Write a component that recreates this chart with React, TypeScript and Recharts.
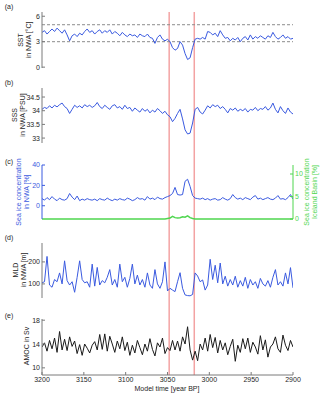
import { LineChart, Line, XAxis, YAxis, ReferenceLine } from "recharts";

// model years, every 3 years
const years = [
  3200, 3197, 3194, 3191, 3188, 3185, 3182, 3179, 3176, 3173,
  3170, 3167, 3164, 3161, 3158, 3155, 3152, 3149, 3146, 3143,
  3140, 3137, 3134, 3131, 3128, 3125, 3122, 3119, 3116, 3113,
  3110, 3107, 3104, 3101, 3098, 3095, 3092, 3089, 3086, 3083,
  3080, 3077, 3074, 3071, 3068, 3065, 3062, 3059, 3056, 3053,
  3050, 3047, 3044, 3041, 3038, 3035, 3032, 3029, 3026, 3023,
  3020, 3017, 3014, 3011, 3008, 3005, 3002, 2999, 2996, 2993,
  2990, 2987, 2984, 2981, 2978, 2975, 2972, 2969, 2966, 2963,
  2960, 2957, 2954, 2951, 2948, 2945, 2942, 2939, 2936, 2933,
  2930, 2927, 2924, 2921, 2918, 2915, 2912, 2909, 2906, 2903, 2900,
];

const sst = [
  4.1, 4.3, 3.9, 4.2, 4.5, 4.2, 4.6, 4.3, 4.0, 4.4,
  3.8, 3.1, 3.7, 3.9, 3.6, 4.0, 3.8, 4.2, 4.5, 4.1,
  4.3, 3.9, 4.2, 4.4, 4.0, 4.3, 4.1, 4.4, 3.9, 4.2,
  4.0, 3.7, 4.1, 3.8, 3.6, 3.9, 3.7, 3.8, 3.5, 3.9,
  3.7, 3.6, 3.9, 3.5, 3.4, 2.8, 3.5, 3.8, 3.3, 3.1,
  3.3, 3.0, 2.3, 2.0, 2.2, 3.0, 2.6, 1.6, 0.9, 1.1,
  2.3, 3.3, 3.4, 3.3, 3.5, 3.3, 4.2, 4.1, 3.8, 4.0,
  3.6, 4.3, 3.8, 3.4, 3.5, 3.1, 3.4, 3.2, 3.5, 3.0,
  3.4, 3.6, 3.2, 3.8, 3.3, 3.6, 3.4, 3.7, 3.5, 3.3,
  3.7, 3.5, 4.1, 3.6, 3.3, 3.5, 3.8, 3.4, 3.6, 3.3, 3.4,
];

const sss = [
  34.05, 34.12, 34.08, 34.18, 34.1, 34.2, 34.14, 34.22, 34.28, 34.15,
  34.08, 33.9, 34.05, 34.2, 34.12, 34.18, 34.1, 34.22, 34.15, 34.2,
  34.12, 34.18, 34.3, 34.15, 34.08, 34.2, 34.12, 34.05, 34.18, 34.22,
  34.1, 34.15, 34.05, 34.2, 34.08, 34.12, 33.98, 34.1, 34.02, 33.95,
  34.08, 33.98, 34.05, 33.92, 34.02, 33.95, 34.08, 34.0, 33.9, 33.98,
  33.85, 33.78, 33.6, 33.72, 33.9, 34.05, 33.7, 33.3, 33.15, 33.18,
  33.55, 34.05, 34.12, 33.95, 33.88, 34.02, 34.18, 34.1, 34.22, 34.15,
  34.2, 34.08, 34.15, 34.05, 33.92, 34.08, 34.02, 34.1, 33.98, 34.05,
  34.0, 34.08, 33.95, 34.05, 34.02, 34.12, 34.0, 34.08, 34.05, 34.15,
  34.02, 34.1, 34.28, 34.05, 33.92, 34.15, 34.0, 33.9, 34.1, 33.95, 33.88,
];

const iceNwa = [
  7, 5.5, 8, 6, 9, 6.5, 5, 7.5, 6, 5.5,
  7, 12, 8.5, 6, 9.5, 5, 6.5, 5.5, 7, 6,
  5.5, 6.5, 5, 7, 6, 5.5, 7.5, 6, 5, 6.5,
  5.5, 7, 6, 5.5, 7.5, 6.5, 5, 6, 8, 6.5,
  7, 5.5, 9, 6.5, 7.5, 6, 8.5, 7, 6.5, 8,
  9, 10, 12, 18, 11, 10.5, 11, 24, 26, 19,
  10, 7.5, 7, 6.5, 7.5, 6, 7, 5.5, 6.5, 7,
  5.5, 6, 8, 6.5, 5.5, 7, 11, 8, 6.5, 7.5,
  6, 8, 7, 6, 8.5, 10, 6.5, 7.5, 6, 7,
  8, 6.5, 6, 7.5, 10, 6.5, 7, 6, 8, 11, 6.5,
];

const iceIceland = [
  0, 0, 0, 0, 0, 0, 0, 0, 0, 0,
  0, 0, 0, 0, 0, 0, 0, 0, 0, 0,
  0, 0, 0, 0, 0, 0, 0, 0, 0, 0,
  0, 0, 0, 0, 0, 0, 0, 0, 0, 0,
  0, 0, 0, 0, 0, 0, 0, 0, 0, 0,
  0.1, 0.2, 0.6, 0.3, 0.2, 0.3, 0.5, 0.4, 0.7, 0.3,
  0.1, 0, 0, 0, 0, 0, 0, 0, 0, 0,
  0, 0, 0, 0, 0, 0, 0, 0, 0, 0,
  0, 0, 0, 0, 0, 0, 0, 0, 0, 0,
  0, 0, 0, 0, 0, 0, 0, 0, 0, 0, 0,
];

const mld = [
  105, 110, 225, 95, 85, 120, 110, 150, 100, 205,
  115, 95, 110, 62, 130, 205, 120, 105, 110, 85,
  190, 90, 175, 95, 115, 105, 130, 165, 95, 120,
  85, 190, 110, 130, 85, 125, 190, 100, 140, 95,
  120, 85, 150, 95, 80, 165, 100, 80, 110, 200,
  68, 80, 72, 65, 110, 151, 80, 50, 47, 46,
  52, 150, 136, 110, 118, 72, 95, 212, 120, 185,
  105, 195, 100, 135, 90, 120, 95, 135, 85, 115,
  90, 130, 80, 120, 95, 110, 80, 125, 100, 90,
  115, 85, 130, 165, 95, 110, 90, 150, 100, 174, 82,
];

const amoc = [
  13.5, 14.2, 12.8, 14.6, 13.2, 15.0, 12.6, 16.1, 13.0, 14.8,
  12.9, 15.2, 13.6, 14.5, 12.4, 13.9, 12.1, 14.0, 13.3, 12.5,
  13.8, 14.4, 13.0, 15.6, 13.1, 15.7, 12.8, 15.3, 14.0, 12.6,
  14.5, 13.2, 15.2, 12.9, 14.3, 12.1, 13.8, 12.5, 14.6, 13.4,
  12.2, 14.0, 12.8, 14.9, 13.1, 12.0, 14.2, 13.5, 15.0, 12.4,
  13.4, 12.9, 14.6, 13.0, 14.5, 12.8, 15.2, 14.0, 16.9, 13.0,
  11.3, 12.8, 11.2, 14.0, 13.0, 15.0, 12.8, 15.6, 13.4, 15.1,
  12.5, 14.6, 13.0, 14.2, 12.2, 13.6, 14.8, 11.1, 13.8, 12.6,
  14.9, 13.2, 15.0, 12.6, 14.3, 13.5, 12.3, 15.4, 13.0, 14.7,
  11.8, 13.5, 14.0, 15.2, 13.2, 12.6, 15.5, 13.8, 12.9, 14.6, 13.5,
];

const xTicks = [3200, 3150, 3100, 3050, 3000, 2950, 2900];
const eventStart = 3048;
const eventEnd = 3018;
const sstRefs = [3, 5];

const rows = years.map((year, i) => ({
  year,
  sst: sst[i],
  sss: sss[i],
  iceNwa: iceNwa[i],
  iceIceland: iceIceland[i],
  mld: mld[i],
  amoc: amoc[i],
}));

const FONT = "'Liberation Sans', Arial, sans-serif";
const FS = 7;
const AXIS = "#7a7a7a";
const TXT = "#262626";
const BLUE = "#3a5ae0";
const GREEN = "#4fd64f";
const RED = "#f3a3a3";
const PAD = 6;

// box axes (MATLAB style, inward ticks)
function frame(
  domain: [number, number],
  ticks: number[],
  opts: { showX?: boolean; leftColor?: string; right?: boolean } = {}
) {
  const lc = opts.leftColor ?? AXIS;
  const tc = opts.leftColor ?? TXT;
  const items = [
    <XAxis
      key="xb"
      dataKey="year"
      type="number"
      domain={[2900, 3200]}
      reversed
      ticks={xTicks}
      interval={0}
      allowDataOverflow
      height={opts.showX ? 16 : 0}
      stroke={AXIS}
      tickSize={-3}
      tickMargin={5}
      tick={opts.showX ? { fill: TXT, fontSize: FS, fontFamily: FONT } : false}
    />,
    <XAxis
      key="xt"
      xAxisId="top"
      orientation="top"
      dataKey="year"
      type="number"
      domain={[2900, 3200]}
      reversed
      ticks={xTicks}
      interval={0}
      height={0}
      stroke={AXIS}
      tickSize={-3}
      tick={false}
    />,
    <YAxis
      key="yl"
      domain={domain}
      ticks={ticks}
      interval={0}
      allowDataOverflow
      width={42}
      stroke={lc}
      tickSize={-3}
      tickMargin={5}
      tick={{ fill: tc, fontSize: FS, fontFamily: FONT }}
    />,
  ];
  if (!opts.right) {
    items.push(
      <YAxis
        key="yr"
        yAxisId="frame"
        orientation="right"
        domain={domain}
        ticks={ticks}
        interval={0}
        width={0}
        stroke={AXIS}
        tickSize={-3}
        tick={false}
      />
    );
  }
  return items;
}

function Txt({ x, y, children, color = TXT, rot = false, size = FS }: any) {
  return (
    <div
      style={{
        position: "absolute",
        left: x,
        top: y,
        transform: `translate(-50%,-50%)${rot ? " rotate(-90deg)" : ""}`,
        whiteSpace: "nowrap",
        fontSize: size,
        lineHeight: 1,
        color,
        fontFamily: FONT,
      }}
    >
      {children}
    </div>
  );
}

function Panel({ boxTop, boxH, right = 27, bottom = 0, children }: any) {
  return (
    <div style={{ position: "absolute", left: 0, top: boxTop - PAD }}>
      <LineChart
        width={320}
        height={boxH + PAD * 2 + bottom}
        data={rows}
        margin={{ top: PAD, right, bottom: PAD, left: 0 }}
      >
        {children}
      </LineChart>
    </div>
  );
}

export default function App() {
  return (
    <div
      style={{
        position: "absolute",
        left: 0,
        top: 0,
        width: 320,
        height: 394,
        background: "#fff",
        fontFamily: FONT,
      }}
    >
      {/* event markers spanning all panels */}
      <div style={{ position: "absolute", left: 0, top: 12 }}>
        <LineChart width={320} height={363} data={rows} margin={{ top: 0, right: 27, bottom: 0, left: 0 }}>
          <XAxis dataKey="year" type="number" domain={[2900, 3200]} reversed allowDataOverflow height={0} tick={false} axisLine={false} tickLine={false} />
          <YAxis domain={[0, 7]} allowDataOverflow width={42} tick={false} axisLine={false} tickLine={false} />
          <Line dataKey="sst" stroke="none" dot={false} activeDot={false} isAnimationActive={false} />
          <ReferenceLine x={eventStart} stroke={RED} strokeWidth={1.5} ifOverflow="visible" />
          <ReferenceLine x={eventEnd} stroke={RED} strokeWidth={1.5} ifOverflow="visible" />
        </LineChart>
      </div>

      {/* (a) SST */}
      <Panel boxTop={12} boxH={56}>
        {frame([-0.1, 6.5], [0, 3, 6])}
        {sstRefs.map((v) => (
          <ReferenceLine key={v} y={v} stroke="#8c8c8c" strokeDasharray="3 2" />
        ))}
        <Line dataKey="sst" stroke={BLUE} strokeWidth={1} dot={false} isAnimationActive={false} />
      </Panel>

      {/* (b) SSS */}
      <Panel boxTop={88} boxH={55}>
        {frame([32.82, 34.83], [33, 33.5, 34, 34.5])}
        <Line dataKey="sss" stroke={BLUE} strokeWidth={1} dot={false} isAnimationActive={false} />
      </Panel>

      {/* (c) sea ice */}
      <Panel boxTop={165} boxH={54} right={0}>
        {frame([-13, 40], [0, 20, 40], { leftColor: BLUE, right: true })}
        <YAxis
          yAxisId="r"
          orientation="right"
          domain={[0, 12]}
          ticks={[0, 5, 10]}
          interval={0}
          width={27}
          stroke={GREEN}
          tickSize={-3}
          tickMargin={5}
          tick={{ fill: GREEN, fontSize: FS, fontFamily: FONT }}
        />
        <Line yAxisId="r" dataKey="iceIceland" stroke={GREEN} strokeWidth={1.5} dot={false} isAnimationActive={false} />
        <Line dataKey="iceNwa" stroke={BLUE} strokeWidth={1} dot={false} isAnimationActive={false} />
      </Panel>

      {/* (d) MLD */}
      <Panel boxTop={243} boxH={55}>
        {frame([36, 286], [100, 200])}
        <Line dataKey="mld" stroke={BLUE} strokeWidth={1} dot={false} isAnimationActive={false} />
      </Panel>

      {/* (e) AMOC */}
      <Panel boxTop={319} boxH={56} bottom={16}>
        {frame([8.8, 18.2], [10, 14, 18], { showX: true })}
        <Line dataKey="amoc" stroke="#1a1a1a" strokeWidth={1} dot={false} isAnimationActive={false} />
      </Panel>

      {/* panel letters */}
      <Txt x={9} y={6}>(a)</Txt>
      <Txt x={9} y={82}>(b)</Txt>
      <Txt x={9} y={161}>(c)</Txt>
      <Txt x={9} y={237}>(d)</Txt>
      <Txt x={9} y={315}>(e)</Txt>

      {/* y labels */}
      <Txt x={20} y={40} rot>SST</Txt>
      <Txt x={28} y={40} rot>in NWA [°C]</Txt>
      <Txt x={14} y={115} rot>SSS</Txt>
      <Txt x={22} y={115} rot>in NWA [PSU]</Txt>
      <Txt x={18} y={192} rot color={BLUE}>Sea ice concentration</Txt>
      <Txt x={26} y={192} rot color={BLUE}>in NWA [%]</Txt>
      <Txt x={306} y={192} rot color={GREEN}>Sea ice concentration</Txt>
      <Txt x={314} y={192} rot color={GREEN}>Iceland Basin [%]</Txt>
      <Txt x={15} y={270} rot>MLD</Txt>
      <Txt x={23} y={270} rot>in NWA [m]</Txt>
      <Txt x={26} y={346} rot>AMOC in Sv</Txt>

      <Txt x={167} y={388}>Model time [year BP]</Txt>
    </div>
  );
}
